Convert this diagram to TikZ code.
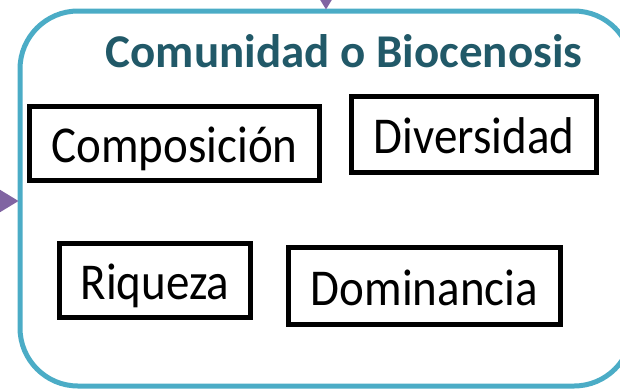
\documentclass[tikz,border=0pt]{standalone}
\usepackage{fontspec}
\setmainfont{Carlito}
\usetikzlibrary{arrows.meta}
\definecolor{frameblue}{HTML}{4BACC6}
\definecolor{titleteal}{HTML}{215968}
\definecolor{arrowpurple}{HTML}{8064A2}
\newcommand{\boxtext}[1]{\scalebox{1}[1.1]{#1}}
\tikzset{
  frame/.style={draw=frameblue, line width=5pt, rounded corners=58pt, minimum width=612pt, minimum height=375pt, inner sep=0pt},
  itembox/.style={draw=black, line width=5pt, fill=white, inner sep=0pt, text height=38pt, text depth=0pt, font=\fontsize{47}{56}\selectfont},
  titletext/.style={text=titleteal, font=\fontsize{47}{56}\selectfont\bfseries, inner sep=0pt},
  inarrow/.style={arrowpurple, line width=2pt, -{Triangle[width=25pt,length=21pt]}, shorten >=-1pt}
}
\begin{document}
\begin{tikzpicture}[x=1pt,y=-1pt]
\useasboundingbox (0,0) rectangle (620,388);
\clip (0,0) rectangle (620,388);
\node[frame] (frame) at (326,198.5) {};
\coordinate (topsrc) at (326,-60);
\coordinate (leftsrc) at (-60,201);
\draw[inarrow] (topsrc) -- (frame.north -| topsrc);
\draw[inarrow] (leftsrc) -- (frame.west |- leftsrc);
\node[titletext, anchor=base] (title) at (344,67) {Comunidad o Biocenosis};
\node[itembox, minimum width=290pt, minimum height=74pt] (comp) at (174.5,143.5) {\boxtext{Composición}\hspace{7pt}};
\node[itembox, minimum width=245pt, minimum height=76pt] (div) at (474,134.5) {\boxtext{Diversidad}};
\node[itembox, minimum width=191pt, minimum height=74pt] (riq) at (155,280.5) {\boxtext{Riqueza}};
\node[itembox, minimum width=272pt, minimum height=77pt] (dom) at (424.5,286) {\boxtext{Dominancia}};
\end{tikzpicture}
\end{document}
